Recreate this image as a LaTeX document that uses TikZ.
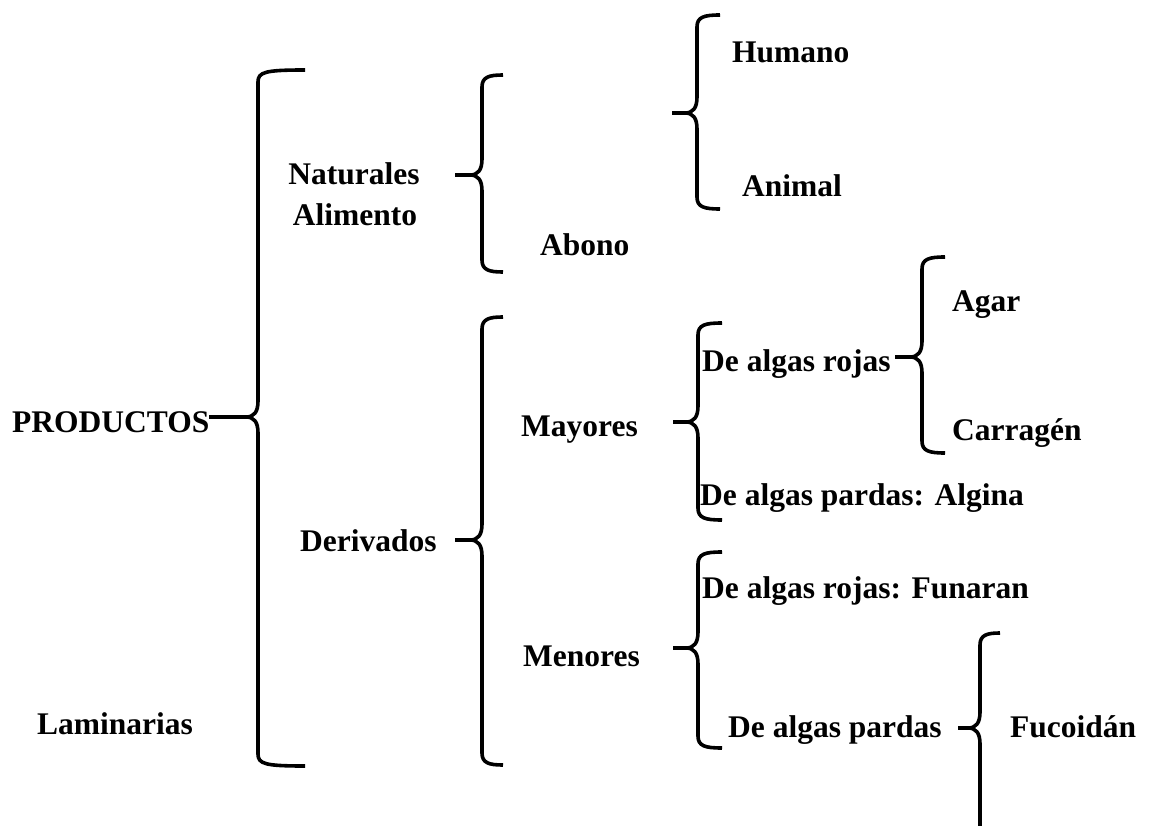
\documentclass[tikz,border=0pt]{standalone}
\usepackage{fontspec}
\setmainfont{Liberation Serif}
\begin{document}
\begin{tikzpicture}[x=1pt,y=-1pt,
  lab/.style={inner sep=0pt, font=\fontsize{31.5}{36}\selectfont\bfseries, anchor=base west},
  brc/.style={line width=3.6pt, line join=round}]
\clip (0,0) rectangle (1149,826);
\fill[white] (0,0) rectangle (1149,826);

% left curly brace: tail x, tip y, stem x, top y, bottom y, arm end x
\newcommand\curlybrace[6]{%
  \draw[brc] (#1,#2) -- ({#3-12},#2) .. controls ({#3-4},#2) and (#3,{#2-5}) .. (#3,{#2-16})
    -- (#3,{#4+12}) .. controls (#3,{#4+2}) and ({#3+7},#4) .. (#6,#4);
  \draw[brc] (#1,#2) -- ({#3-12},#2) .. controls ({#3-4},#2) and (#3,{#2+5}) .. (#3,{#2+16})
    -- (#3,{#5-12}) .. controls (#3,{#5-2}) and ({#3+7},#5) .. (#6,#5);
}

% labels
\node[lab] (prod)   at (12,432)  {PRODUCTOS};
\node[lab] (lam)    at (37,734)  {Laminarias};
\node[lab, anchor=base] (nat)  at (354,185) {Naturales};
\node[lab, anchor=base] (alim) at (355,226) {Alimento};
\node[lab] (abono)  at (540,256) {Abono};
\node[lab] (hum)    at (732,63)  {Humano};
\node[lab] (ani)    at (742,197) {Animal};
\node[lab] (deriv)  at (300,551) {Derivados};
\node[lab] (may)    at (521,436) {Mayores};
\node[lab] (men)    at (523,666) {Menores};
\node[lab] (rojas)  at (702,372) {De algas rojas};
\node[lab] (agar)   at (952,312) {Agar};
\node[lab] (carr)   at (952,440) {Carragén};
\node[lab] (pardA)  at (700,505) {De algas pardas: Algina};
\node[lab] (rojF)   at (702,598) {De algas rojas: Funaran};
\node[lab] (pardas) at (728,737) {De algas pardas};
\node[lab] (fuco)   at (1010,737) {Fucoidán};

% braces
\curlybrace{209}{417}{258}{70}{766}{305}
\curlybrace{455}{175}{482}{75}{272}{503}
\curlybrace{672}{113}{697}{15}{209}{720}
\curlybrace{455}{540}{482}{317}{765}{503}
\curlybrace{673}{422}{698}{323}{520}{722}
\curlybrace{895}{357}{922}{257}{453}{945}
\curlybrace{673}{648}{698}{552}{748}{722}
\curlybrace{958}{728}{980}{633}{870}{1000}
\end{tikzpicture}
\end{document}
